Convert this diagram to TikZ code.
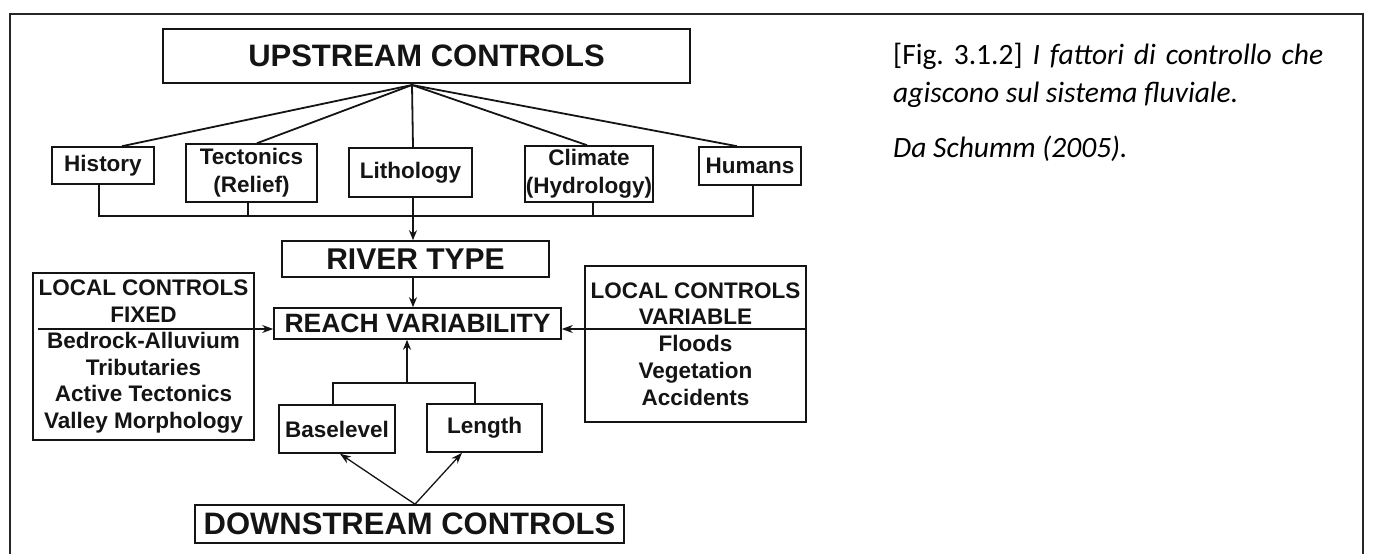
\documentclass[tikz,border=0pt]{standalone}
\usepackage{fontspec}
\setmainfont{Liberation Sans}
\newfontfamily\capfont{Carlito}
\usetikzlibrary{arrows.meta}
\definecolor{ink}{RGB}{20,20,20}
\begin{document}
\begin{tikzpicture}[x=1pt,y=-1pt,
  box/.style={draw=ink,line width=1.6pt,inner sep=0pt,align=center,text=ink,
    font=\bfseries\fontsize{22.5}{28}\selectfont},
  big/.style={box,font=\bfseries\fontsize{31}{36}\selectfont},
  link/.style={draw=ink,line width=1.8pt},
  thinline/.style={draw=ink,line width=1.1pt},
  arr/.style={link,-{Stealth[length=10pt,width=8pt]}},
  thinarr/.style={draw=ink,line width=1.3pt,-{Stealth[length=11pt,width=8pt]}},
  captxt/.style={anchor=base west,inner sep=0pt,text=black,font=\capfont\fontsize{29.5}{38}\selectfont}]
\useasboundingbox (0,0) rectangle (1373,554);
\draw[line width=2pt,black!85] (10,554) -- (10,14) -- (1363,14) -- (1363,554);

% upstream
\node[big,minimum width=527pt,minimum height=54pt] (up) at (426.5,56) {UPSTREAM CONTROLS};
\coordinate (fan) at (412,85);
\node[box,minimum width=102pt,minimum height=37pt] (hist) at (103,165.5) {History};
\node[box,minimum width=131pt,minimum height=58pt] (tect) at (251.5,173) {Tectonics\\(Relief)};
\node[box,minimum width=123pt,minimum height=49pt] (lith) at (410.5,172.5) {Lithology};
\node[box,minimum width=128pt,minimum height=56pt] (clim) at (589,174) {Climate\\(Hydrology)};
\node[box,minimum width=102pt,minimum height=38pt] (hum) at (750,166) {Humans};

\draw[link] (fan) -- ([xshift=19pt]hist.north);
\draw[link] (fan) -- ([xshift=5.5pt]tect.north);
\draw[link] (fan) -- ([xshift=2.5pt]lith.north);
\draw[link] (fan) -- ([xshift=-2pt]clim.north);
\draw[link] (fan) -- ([xshift=-13pt]hum.north);

\coordinate (busl) at (99,216);
\coordinate (busr) at (753,216);
\draw[link] ([xshift=-4pt]hist.south) -- (busl) -- (busr) -- ([xshift=3pt]hum.south);
\draw[link] ([xshift=-3.5pt]tect.south) -- ++(0,14);
\draw[link] ([xshift=4pt]clim.south) -- ++(0,14);

% river type / reach
\node[big,font=\bfseries\fontsize{30}{34}\selectfont,minimum width=267pt,minimum height=36pt] (river) at (415.5,259) {RIVER TYPE};
\draw[arr] ([xshift=2.5pt]lith.south) -- ([xshift=-2.5pt]river.north);
\node[big,font=\bfseries\fontsize{26.5}{30}\selectfont,minimum width=287pt,minimum height=31pt] (reach) at (417.5,323.5) {REACH VARIABILITY};
\draw[arr] ([xshift=-2.5pt]river.south) -- ([xshift=-4.5pt]reach.north);

% local controls
\node[box,font=\bfseries\fontsize{22.5}{26.6}\selectfont,minimum width=221pt,minimum height=167pt] (fixed) at (143.5,356.5)
  {LOCAL CONTROLS\\FIXED\\Bedrock-Alluvium\\Tributaries\\Active Tectonics\\Valley Morphology};
\node[box,font=\bfseries\fontsize{22.5}{26.8}\selectfont,minimum width=221pt,minimum height=156pt] (var) at (695.5,344)
  {LOCAL CONTROLS\\VARIABLE\\Floods\\Vegetation\\Accidents};
\coordinate (fixdiv) at (38,329);
\coordinate (vardiv) at (807,329);
\draw[thinarr] (fixdiv) -- (fixdiv -| reach.west);
\draw[thinarr] (vardiv) -- (vardiv -| reach.east);

% downstream
\node[box,minimum width=116pt,minimum height=48pt] (base) at (337,429) {Baselevel};
\node[box,minimum width=115pt,minimum height=48pt] (len) at (484.5,428) {Length};
\coordinate (brk) at (407,383);
\draw[thinline] ([xshift=-4pt]base.north) |- (brk) -| ([xshift=-9.5pt]len.north);
\draw[arr] (brk) -- (brk |- reach.south);
\node[big,minimum width=429pt,minimum height=38pt] (down) at (409.5,524) {DOWNSTREAM CONTROLS};
\draw[thinarr] ([xshift=5.5pt]down.north) -- ([xshift=3pt]base.south);
\draw[thinarr] ([xshift=5.5pt]down.north) -- ([xshift=-22.5pt]len.south);

% caption
\node[captxt] (cap1) at (893,64) {\makebox[430pt][s]{[Fig.\ 3.1.2] \textit{I fattori di controllo che}}};
\node[captxt] (cap2) at (893,102) {\textit{agiscono sul sistema fluviale.}};
\node[captxt] (cap3) at (893,157) {\textit{Da Schumm (2005).}};
\end{tikzpicture}
\end{document}
